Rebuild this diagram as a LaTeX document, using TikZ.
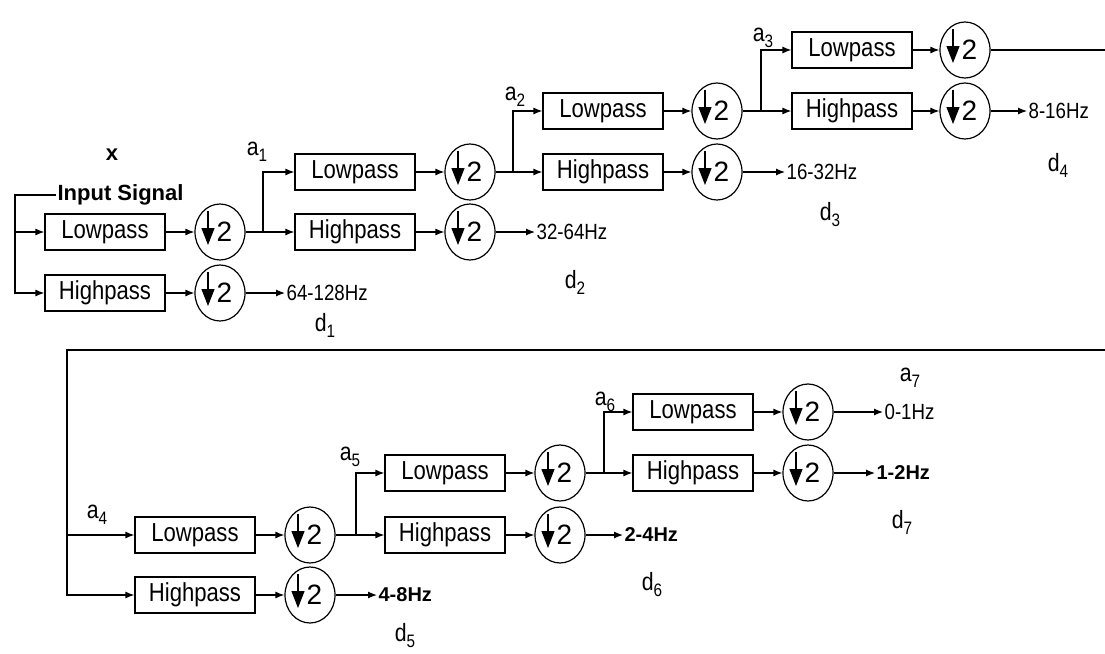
\documentclass[tikz,border=0pt]{standalone}
\usepackage{fontspec}
\setmainfont{Liberation Sans}
\newfontfamily\narrowfont[FakeStretch=0.85]{Liberation Sans}
\usetikzlibrary{shapes.geometric, arrows.meta, positioning}

\newcommand{\sublab}[2]{#1\raisebox{-6pt}{\fontsize{18}{18}\selectfont #2}}

\begin{document}
\begin{tikzpicture}[x=1pt, y=-1pt, line width=1.2pt, >={Latex[length=9pt,width=7pt]}]
    \tikzset{
        fbox/.style={draw, minimum width=120pt, minimum height=36pt, inner sep=0pt, font=\narrowfont\fontsize{26}{28}\selectfont},
        dsamp/.style={draw, ellipse, minimum width=50pt, minimum height=56pt, inner sep=0pt, font=\fontsize{28}{30}\selectfont,
            path picture={\draw[-{Triangle[length=17pt,width=13pt]}] ([shift={(-12pt,21pt)}]path picture bounding box.center) -- ++(0pt,-34pt);}},
        band/.style={anchor=west, inner sep=1pt, font=\narrowfont\fontsize{22}{24}\selectfont},
        bband/.style={anchor=west, inner sep=1pt, font=\bfseries\fontsize{20}{22}\selectfont},
        clab/.style={inner sep=0pt, font=\narrowfont\fontsize{25}{27}\selectfont},
        blab/.style={inner sep=1pt, font=\bfseries\fontsize{22}{24}\selectfont},
    }
    \useasboundingbox (0,0) rectangle (1105,653);

    % input
    \node[blab] (xin) at (112,155) {x};
    \node[blab, anchor=west] (insig) at (56,195) {Input Signal};
    \coordinate (sp1) at (15,232);

    % level 1
    \node[fbox] (lp1) at (105,232) {Lowpass};
    \node[fbox] (hp1) at (105,293) {Highpass};
    \node[dsamp] (dl1) at (220,232) {\hspace*{9pt}2};
    \node[dsamp] (dh1) at (220,293) {\hspace*{9pt}2};
    \node[band] (f1) at (285,293) {64-128Hz};
    \node[clab] (d1) at (325,325) {\sublab{d}{1}};
    \draw (insig.west) -| (sp1);
    \draw[->] (sp1) -- (lp1);
    \draw[->] (sp1) |- (hp1);
    \draw[->] (lp1) -- (dl1);
    \draw[->] (hp1) -- (dh1);
    \draw[->] (dh1) -- (f1);

    % level 2
    \node[clab] (a1) at (257,152) {\sublab{a}{1}};
    \coordinate (sp2) at (263,232);
    \node[fbox] (lp2) at (355,172) {Lowpass};
    \node[fbox] (hp2) at (355,232) {Highpass};
    \node[dsamp] (dl2) at (470,172) {\hspace*{9pt}2};
    \node[dsamp] (dh2) at (470,232) {\hspace*{9pt}2};
    \node[band] (f2) at (535,232) {32-64Hz};
    \node[clab] (d2) at (575,282) {\sublab{d}{2}};
    \draw (dl1) -- (sp2);
    \draw[->] (sp2) -- (hp2);
    \draw[->] (sp2) |- (lp2);
    \draw[->] (lp2) -- (dl2);
    \draw[->] (hp2) -- (dh2);
    \draw[->] (dh2) -- (f2);

    % level 3
    \node[clab] (a2) at (515,97) {\sublab{a}{2}};
    \coordinate (sp3) at (513,172);
    \node[fbox] (lp3) at (603,111) {Lowpass};
    \node[fbox] (hp3) at (603,172) {Highpass};
    \node[dsamp] (dl3) at (717,111) {\hspace*{9pt}2};
    \node[dsamp] (dh3) at (717,172) {\hspace*{9pt}2};
    \node[band] (f3) at (785,172) {16-32Hz};
    \node[clab] (d3) at (830,215) {\sublab{d}{3}};
    \draw (dl2) -- (sp3);
    \draw[->] (sp3) -- (hp3);
    \draw[->] (sp3) |- (lp3);
    \draw[->] (lp3) -- (dl3);
    \draw[->] (hp3) -- (dh3);
    \draw[->] (dh3) -- (f3);

    % level 4
    \node[clab] (a3) at (763,38) {\sublab{a}{3}};
    \coordinate (sp4) at (761,111);
    \node[fbox] (lp4) at (852,50) {Lowpass};
    \node[fbox] (hp4) at (852,111) {Highpass};
    \node[dsamp] (dl4) at (965,50) {\hspace*{9pt}2};
    \node[dsamp] (dh4) at (965,111) {\hspace*{9pt}2};
    \node[band] (f4) at (1027,111) {8-16Hz};
    \node[clab] (d4) at (1058,165) {\sublab{d}{4}};
    \coordinate (ed1) at (1105,50);
    \draw (dl3) -- (sp4);
    \draw[->] (sp4) -- (hp4);
    \draw[->] (sp4) |- (lp4);
    \draw[->] (lp4) -- (dl4);
    \draw[->] (hp4) -- (dh4);
    \draw[->] (dh4) -- (f4);
    \draw (dl4) -- (ed1);

    % level 5 (continued)
    \coordinate (ed2) at (1105,350);
    \coordinate (sp5) at (67,535);
    \node[clab] (a4) at (97,515) {\sublab{a}{4}};
    \node[fbox] (lp5) at (195,535) {Lowpass};
    \node[fbox] (hp5) at (195,595) {Highpass};
    \node[dsamp] (dl5) at (310,535) {\hspace*{9pt}2};
    \node[dsamp] (dh5) at (310,595) {\hspace*{9pt}2};
    \node[bband] (f5) at (377,595) {4-8Hz};
    \node[clab] (d5) at (405,636) {\sublab{d}{5}};
    \draw (ed2) -| (sp5);
    \draw[->] (sp5) -- (lp5);
    \draw[->] (sp5) |- (hp5);
    \draw[->] (lp5) -- (dl5);
    \draw[->] (hp5) -- (dh5);
    \draw[->] (dh5) -- (f5);

    % level 6
    \node[clab] (a5) at (350,457) {\sublab{a}{5}};
    \coordinate (sp6) at (356,535);
    \node[fbox] (lp6) at (445,473) {Lowpass};
    \node[fbox] (hp6) at (445,535) {Highpass};
    \node[dsamp] (dl6) at (560,473) {\hspace*{9pt}2};
    \node[dsamp] (dh6) at (560,535) {\hspace*{9pt}2};
    \node[bband] (f6) at (623,535) {2-4Hz};
    \node[clab] (d6) at (652,585) {\sublab{d}{6}};
    \draw (dl5) -- (sp6);
    \draw[->] (sp6) -- (hp6);
    \draw[->] (sp6) |- (lp6);
    \draw[->] (lp6) -- (dl6);
    \draw[->] (hp6) -- (dh6);
    \draw[->] (dh6) -- (f6);

    % level 7
    \node[clab] (a6) at (605,402) {\sublab{a}{6}};
    \coordinate (sp7) at (604,473);
    \node[fbox] (lp7) at (693,412) {Lowpass};
    \node[fbox] (hp7) at (693,473) {Highpass};
    \node[dsamp] (dl7) at (808,412) {\hspace*{9pt}2};
    \node[dsamp] (dh7) at (808,473) {\hspace*{9pt}2};
    \node[band] (f0) at (883,412) {0-1Hz};
    \node[clab] (a7) at (910,378) {\sublab{a}{7}};
    \node[bband] (f7) at (875,473) {1-2Hz};
    \node[clab] (d7) at (902,522) {\sublab{d}{7}};
    \draw (dl6) -- (sp7);
    \draw[->] (sp7) -- (hp7);
    \draw[->] (sp7) |- (lp7);
    \draw[->] (lp7) -- (dl7);
    \draw[->] (hp7) -- (dh7);
    \draw[->] (dl7) -- (f0);
    \draw[->] (dh7) -- (f7);
\end{tikzpicture}
\end{document}
